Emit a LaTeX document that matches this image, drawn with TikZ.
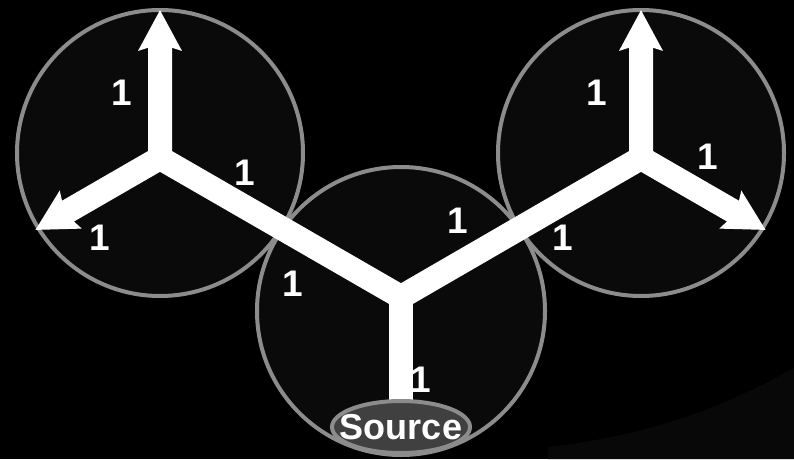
\documentclass[tikz,border=0pt]{standalone}
\usepackage{fontspec}
\setmainfont{Liberation Sans}
\usetikzlibrary{arrows.meta,calc,shapes.geometric}

\begin{document}
\begin{tikzpicture}[
  x=1pt,y=1pt,
  every node/.style={inner sep=0pt},
  zonefill/.style={fill=black!96},
  zonerim/.style={draw=black!45,line width=4pt},
  flow/.style={draw=white,line width=24pt,line join=miter},
  >={Stealth[length=40pt,width=42pt,inset=6pt]},
  lbl/.style={text=white,font=\bfseries\fontsize{37}{40}\selectfont},
  srcrim/.style={draw=black!45,line width=4pt,fill=black!75},
  source/.style={text=white,font=\bfseries\fontsize{36}{40}\selectfont}
]
\useasboundingbox (0,0) rectangle (794,459);
\fill[black] (0,0) rectangle (794,459);
% faint swoosh in the corner
\fill[black!97] (548,0) -- (548,12) .. controls (650,24) and (720,50) .. (794,91) -- (794,0) -- cycle;
% circle centres
\coordinate (cL) at (160,306);
\coordinate (cM) at (401,148);
\coordinate (cR) at (641,306);
% zones: fills first, then rims on top
\foreach \c/\r in {cL/143,cM/144,cR/143} \fill[zonefill] (\c) circle (\r pt);
\foreach \c/\r in {cL/143,cM/144,cR/143} \draw[zonerim] (\c) circle (\r pt);
% junctions and arrow tips
\coordinate (L) at (160,301);
\coordinate (M) at (401,162);
\coordinate (R) at (641,301);
\coordinate (LU) at (160,449);
\coordinate (RU) at (641,449);
\coordinate (LD) at ($(L)+(210:144)$);
\coordinate (RD) at ($(R)+(-30:144)$);
\coordinate (S) at (401,32);
% flows
\draw[flow] (M) -- (S);
\draw[flow] (L) -- (M) -- (R);
\draw[flow,<->] (LU) -- (L) -- (LD);
\draw[flow,<->] (RU) -- (R) -- (RD);
% source
\filldraw[srcrim] (S) ellipse (69pt and 26pt);
\node[source] (src) at (S) {Source};
% flow labels
\node[lbl] (l1) at (122,366) {1};
\node[lbl] (l2) at (245,286) {1};
\node[lbl] (l3) at (100,221) {1};
\node[lbl] (l4) at (293,175) {1};
\node[lbl] (l5) at (458,238) {1};
\node[lbl] (l6) at (421,79) {1};
\node[lbl] (l7) at (597,366) {1};
\node[lbl] (l8) at (708,302) {1};
\node[lbl] (l9) at (563,221) {1};
\end{tikzpicture}
\end{document}
